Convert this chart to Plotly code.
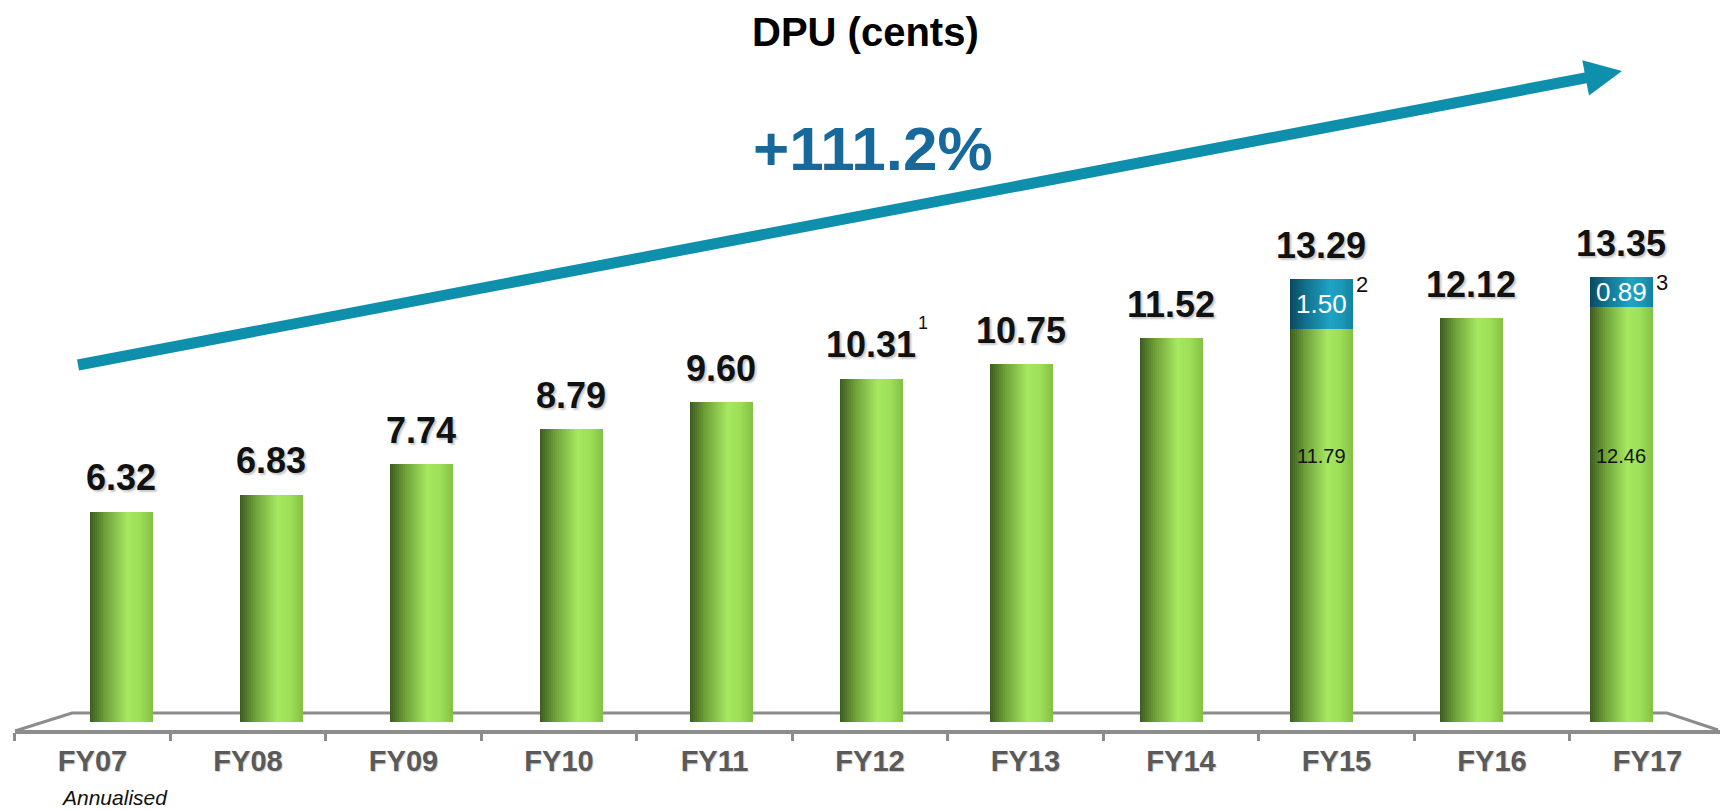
import plotly.graph_objects as go

# ---------------- data ----------------
categories = ["FY07", "FY08", "FY09", "FY10", "FY11", "FY12", "FY13", "FY14", "FY15", "FY16", "FY17"]
dpu_total = [6.32, 6.83, 7.74, 8.79, 9.60, 10.31, 10.75, 11.52, 13.29, 12.12, 13.35]
dpu_base = [6.32, 6.83, 7.74, 8.79, 9.60, 10.31, 10.75, 11.52, 11.79, 12.12, 12.46]
dpu_extra = [None, None, None, None, None, None, None, None, 1.50, None, 0.89]
footnotes = ["", "", "", "", "", "1", "", "", "2", "", "3"]
title_text = "DPU (cents)"
growth_text = "+111.2%"
note_text = "Annualised"

# ---------------- geometry helpers (pixels -> paper) ----------------
W, H = 1720, 810
MB = 78                 # bottom margin -> paper bottom at 732 px
PH = H - MB             # paper height in px
Y0_PX = 722             # pixel row of value 0
PX_PER_UNIT = 33.3


def px(xp, yp):
    return xp / W, (PH - yp) / PH


FONT = "Liberation Sans, Arial, sans-serif"
BAR_W = 0.42
N_STRIPS = 32


def lerp_color(stops, t):
    for (t0, c0), (t1, c1) in zip(stops[:-1], stops[1:]):
        if t0 <= t <= t1:
            f = (t - t0) / (t1 - t0) if t1 > t0 else 0
            c = [round(a + (b - a) * f) for a, b in zip(c0, c1)]
            return f"rgb({c[0]},{c[1]},{c[2]})"
    c = stops[-1][1]
    return f"rgb({c[0]},{c[1]},{c[2]})"


green_stops = [(0.0, (58, 88, 30)), (0.25, (110, 160, 55)), (0.6, (166, 232, 96)),
               (0.8, (158, 222, 88)), (1.0, (132, 192, 68))]
blue_stops = [(0.0, (10, 72, 92)), (0.3, (18, 118, 148)), (0.65, (30, 164, 198)),
              (0.85, (26, 150, 180)), (1.0, (18, 130, 160))]

fig = go.Figure()

sw = BAR_W / N_STRIPS
for i in range(N_STRIPS):
    t = (i + 0.5) / N_STRIPS
    off = -BAR_W / 2 + i * sw
    fig.add_trace(go.Bar(
        x=categories, y=dpu_base, width=sw * 1.3, offset=off,
        marker=dict(color=lerp_color(green_stops, t), line=dict(width=0)),
        xaxis="x", yaxis="y", showlegend=False, hoverinfo="skip"))
    fig.add_trace(go.Bar(
        x=categories, y=dpu_extra, base=dpu_base, width=sw * 1.3, offset=off,
        marker=dict(color=lerp_color(blue_stops, t), line=dict(width=0)),
        xaxis="x", yaxis="y", showlegend=False, hoverinfo="skip"))

# invisible trace to activate the label axis
fig.add_trace(go.Scatter(x=categories, y=[None] * len(categories), xaxis="x2", yaxis="y",
                         mode="markers", showlegend=False, hoverinfo="skip"))

annotations = []
shadow = "2px 2px 2px rgba(0,0,0,0.22)"
for c, tot, base, ext, fn in zip(categories, dpu_total, dpu_base, dpu_extra, footnotes):
    annotations.append(dict(x=c, y=tot, xref="x", yref="y", text=f"{tot:.2f}", showarrow=False,
                            yshift=34, yanchor="middle", xanchor="center",
                            font=dict(family=FONT, size=36, color="#111111", weight=700, shadow=shadow)))
    if ext is not None:
        annotations.append(dict(x=c, y=base + ext / 2, xref="x", yref="y", text=f"{ext:.2f}",
                                showarrow=False, yanchor="middle", xanchor="center",
                                font=dict(family=FONT, size=26, color="white")))
        annotations.append(dict(x=c, y=8.0, xref="x", yref="y", text=f"{base:.2f}",
                                showarrow=False, yanchor="middle", xanchor="center",
                                font=dict(family=FONT, size=20, color="#111111")))
    if fn:
        if ext is None:
            xs, ys, sz = 52, 56, 18
        else:
            xs, ys, sz = 41, -5, 22
        annotations.append(dict(x=c, y=tot, xref="x", yref="y", text=fn, showarrow=False,
                                xshift=xs, yshift=ys, yanchor="middle", xanchor="center",
                                font=dict(family=FONT, size=sz, color="#111111")))

tx, ty = px(866, 32)
annotations.append(dict(x=tx, y=ty, xref="paper", yref="paper", text=title_text, showarrow=False,
                        xanchor="center", yanchor="middle",
                        font=dict(family=FONT, size=40, color="black", weight=700)))
gx, gy = px(873, 148)
annotations.append(dict(x=gx, y=gy, xref="paper", yref="paper", text=growth_text, showarrow=False,
                        xanchor="center", yanchor="middle",
                        font=dict(family=FONT, size=62, color="#17699b", weight=700)))
nx, ny = px(59, 797)
annotations.append(dict(x=nx, y=ny, xref="paper", yref="paper", text=note_text, showarrow=False,
                        xanchor="left", yanchor="middle",
                        font=dict(family=FONT, size=21, color="#111111", style="italic")))

# ---------------- decorative shapes ----------------
def path_px(points, close=False):
    parts = []
    for k, (a, b) in enumerate(points):
        x, y = px(a, b)
        parts.append(("M" if k == 0 else "L") + f"{x:.5f},{y:.5f}")
    return " ".join(parts) + (" Z" if close else "")


shapes = []
floor_col = "#8c8c8c"
shapes.append(dict(type="path", xref="paper", yref="paper", layer="below",
                   path=path_px([(15, 731), (72, 713), (1667, 713), (1718, 730)]),
                   line=dict(color=floor_col, width=3)))
shapes.append(dict(type="path", xref="paper", yref="paper", layer="below",
                   path=path_px([(15, 732), (1720, 732)]),
                   line=dict(color=floor_col, width=4)))

# arrow
arrow_col = "#0e8fab"
tail = (78, 365)
tip = (1622, 71)
dx, dy = tip[0] - tail[0], tip[1] - tail[1]
L = (dx ** 2 + dy ** 2) ** 0.5
ux, uy = dx / L, dy / L
nxv, nyv = -uy, ux
head_len, head_half = 37, 18
bx, by = tip[0] - ux * head_len, tip[1] - uy * head_len
shapes.append(dict(type="path", xref="paper", yref="paper",
                   path=path_px([tail, (bx + ux * 4, by + uy * 4)]),
                   line=dict(color=arrow_col, width=11)))
shapes.append(dict(type="path", xref="paper", yref="paper",
                   path=path_px([tip, (bx + nxv * head_half, by + nyv * head_half),
                                 (bx - nxv * head_half, by - nyv * head_half)], close=True),
                   fillcolor=arrow_col, line=dict(color=arrow_col, width=0)))

# ---------------- layout ----------------
x_c0 = 121   # px of first bar centre
x_step = 150
lab0 = 92.5  # px of first label centre (front floor edge)
lab_step = 155.5

fig.update_layout(
    width=W, height=H,
    margin=dict(l=0, r=0, t=0, b=MB, pad=0),
    paper_bgcolor="white", plot_bgcolor="white",
    barmode="overlay", bargap=0,
    showlegend=False,
    xaxis=dict(type="category", categoryorder="array", categoryarray=categories,
               range=[-x_c0 / x_step, (W - x_c0) / x_step],
               visible=False, fixedrange=True),
    xaxis2=dict(type="category", categoryorder="array", categoryarray=categories,
                range=[-lab0 / lab_step, (W - lab0) / lab_step],
                overlaying="x", anchor="free", position=0, side="bottom",
                showline=False, showgrid=False, zeroline=False,
                ticks="outside", tickson="boundaries", ticklen=8, tickwidth=3, tickcolor=floor_col,
                tickfont=dict(family=FONT, size=29, color="#5a5a5a", weight=700,
                              shadow="1px 1px 1px rgba(0,0,0,0.2)"),
                ticklabelstandoff=9, fixedrange=True),
    yaxis=dict(domain=[(PH - Y0_PX) / PH, 1], range=[0, Y0_PX / PX_PER_UNIT],
               visible=False, fixedrange=True),
    annotations=annotations,
    shapes=shapes,
)

fig.write_html("out.html",
               config={"displayModeBar": False, "staticPlot": True},
               post_script="document.body.style.margin='0px';document.body.style.overflow='hidden';")
